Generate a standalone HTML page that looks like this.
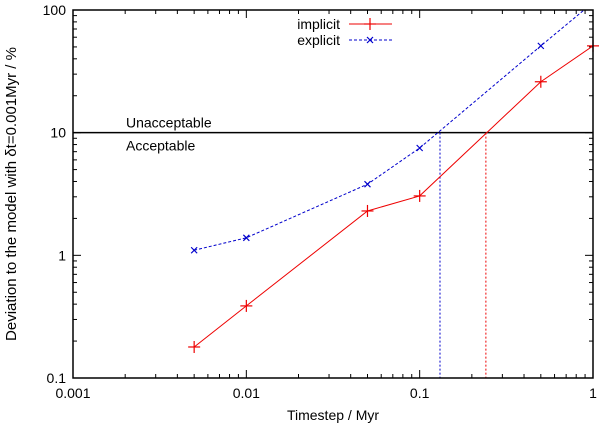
<!DOCTYPE html>
<html><head><meta charset="utf-8"><style>
html,body{margin:0;padding:0;background:#fff}
svg{display:block;font-family:"Liberation Sans",sans-serif}
</style></head><body>
<svg id="c" width="600" height="429"></svg>
<script>
const xVals=[0.005,0.01,0.05,0.1,0.5,1];
const implicitVals=[0.179,0.387,2.3,3.05,26,51];
const explicitVals=[1.1,1.39,3.8,7.5,51,115];
const xTicks=[0.001,0.01,0.1,1];
const xTickLabels=["0.001","0.01","0.1","1"];
const yTicks=[0.1,1,10,100];
const yTickLabels=["0.1","1","10","100"];
const threshold=10;
const crossImplicit=0.241, crossExplicit=0.131;

const L=73,R=593,T=10,B=378;
const X=v=>L+(Math.log10(v)+3)/3*(R-L);
const Y=v=>B-(Math.log10(v)+1)/3*(B-T);
const svg=document.getElementById('c');
const NS='http://www.w3.org/2000/svg';
function mk(tag,attrs,parent){const e=document.createElementNS(NS,tag);for(const k in attrs)e.setAttribute(k,attrs[k]);(parent||svg).appendChild(e);return e;}

const defs=mk('defs',{});
const cp=mk('clipPath',{id:'clip'},defs);
mk('rect',{x:L,y:T,width:R-L,height:B-T},cp);

for(let d=-3;d<0;d++)for(let m=2;m<10;m++){const x=X(m*Math.pow(10,d));
 const t1=mk('line',{x1:x,x2:x,y1:B,y2:B-4,stroke:'#000'});
 
 const t2=mk('line',{x1:x,x2:x,y1:T,y2:T+4,stroke:'#000'});
 }
for(let d=-1;d<2;d++)for(let m=2;m<10;m++){const y=Y(m*Math.pow(10,d));
 const t1=mk('line',{x1:L,x2:L+4,y1:y,y2:y,stroke:'#000'});
 
 const t2=mk('line',{x1:R,x2:R-4,y1:y,y2:y,stroke:'#000'});
 }
xTicks.forEach((v,i)=>{const x=X(v);
 const t=mk('line',{x1:x,x2:x,y1:B,y2:B-8,stroke:'#000'});
 
 const t2=mk('line',{x1:x,x2:x,y1:T,y2:T+8,stroke:'#000'});
 
 const l=mk('text',{x:x,y:B+20,'text-anchor':'middle','font-size':14});l.textContent=xTickLabels[i];
 });
yTicks.forEach((v,i)=>{const y=Y(v);
 const t=mk('line',{x1:L,x2:L+8,y1:y,y2:y,stroke:'#000'});
 
 const t2=mk('line',{x1:R,x2:R-8,y1:y,y2:y,stroke:'#000'});
 
 const l=mk('text',{x:L-7,y:y+5,'text-anchor':'end','font-size':14});l.textContent=yTickLabels[i];
 });

const th=mk('line',{x1:L,x2:R,y1:Y(threshold),y2:Y(threshold),stroke:'#000','stroke-width':1.5});

const ua=mk('text',{x:126,y:Y(threshold)-5,'font-size':14});ua.textContent='Unacceptable';

const ac=mk('text',{x:126,y:Y(threshold)+18,'font-size':14});ac.textContent='Acceptable';


const cb=mk('line',{x1:X(crossExplicit),x2:X(crossExplicit),y1:Y(threshold),y2:B,stroke:'#00c','stroke-dasharray':'2,2'});

const cr=mk('line',{x1:X(crossImplicit),x2:X(crossImplicit),y1:Y(threshold),y2:B,stroke:'#e00','stroke-dasharray':'2,2'});


function plus(x,y,c,name){const g=mk('g',{stroke:c,'stroke-width':1.2});
 
 mk('line',{x1:x-6,x2:x+6,y1:y,y2:y},g);mk('line',{x1:x,x2:x,y1:y-6,y2:y+6},g);}
function cross(x,y,c,name){const g=mk('g',{stroke:c,'stroke-width':1.2});
 
 mk('line',{x1:x-3,x2:x+3,y1:y-3,y2:y+3},g);mk('line',{x1:x-3,x2:x+3,y1:y+3,y2:y-3},g);}

const pi=mk('polyline',{points:xVals.map((v,i)=>X(v)+','+Y(implicitVals[i])).join(' '),fill:'none',stroke:'#e00','clip-path':'url(#clip)'});

const pe=mk('polyline',{points:xVals.map((v,i)=>X(v)+','+Y(explicitVals[i])).join(' '),fill:'none',stroke:'#00c','stroke-dasharray':'3,2','clip-path':'url(#clip)'});

xVals.forEach((v,i)=>{plus(X(v),Y(implicitVals[i]),'#e00','implicit-point');
 if(explicitVals[i]<=100)cross(X(v),Y(explicitVals[i]),'#00c','explicit-point');});

const fr=mk('rect',{x:L,y:T,width:R-L,height:B-T,fill:'none',stroke:'#000','stroke-width':1.5});


const lg=mk('g',{});
const t1=mk('text',{x:340,y:29,'text-anchor':'end','font-size':14},lg);t1.textContent='implicit';

const l1=mk('line',{x1:349,x2:392,y1:24,y2:24,stroke:'#e00'},lg);

plus(370,24,'#e00','legend-implicit-marker');
const t2=mk('text',{x:340,y:45,'text-anchor':'end','font-size':14},lg);t2.textContent='explicit';

const l2=mk('line',{x1:349,x2:392,y1:40,y2:40,stroke:'#00c','stroke-dasharray':'3,2'},lg);

cross(370,40,'#00c','legend-explicit-marker');

const xt=mk('text',{x:333,y:420,'text-anchor':'middle','font-size':14});xt.textContent='Timestep / Myr';

const yt=mk('text',{x:0,y:0,'text-anchor':'middle','font-size':15,transform:'translate(16,194) rotate(-90)'});yt.textContent='Deviation to the model with δt=0.001Myr / %';

</script>
</body></html>
